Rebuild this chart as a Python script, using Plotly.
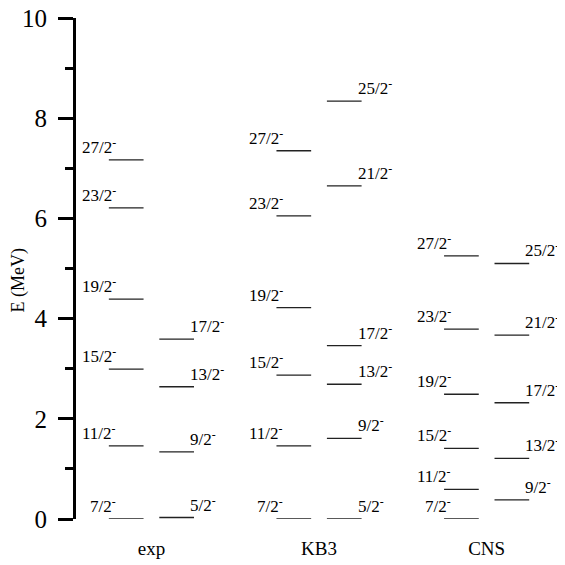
import plotly.graph_objects as go

# ---------------- data ----------------
groups = ["exp", "KB3", "CNS"]
group_pos = [1, 2, 3]

exp_left_labels = ["7/2", "11/2", "15/2", "19/2", "23/2", "27/2"]
exp_left_E = [0.0, 1.46, 2.99, 4.39, 6.21, 7.17]
exp_right_labels = ["5/2", "9/2", "13/2", "17/2"]
exp_right_E = [0.03, 1.34, 2.64, 3.59]

kb3_left_labels = ["7/2", "11/2", "15/2", "19/2", "23/2", "27/2"]
kb3_left_E = [0.0, 1.46, 2.87, 4.22, 6.05, 7.35]
kb3_right_labels = ["5/2", "9/2", "13/2", "17/2", "21/2", "25/2"]
kb3_right_E = [0.0, 1.61, 2.69, 3.46, 6.65, 8.34]

cns_left_labels = ["7/2", "11/2", "15/2", "19/2", "23/2", "27/2"]
cns_left_E = [0.0, 0.59, 1.41, 2.49, 3.79, 5.25]
cns_right_labels = ["9/2", "13/2", "17/2", "21/2", "25/2"]
cns_right_E = [0.38, 1.21, 2.32, 3.67, 5.10]

y_ticks = [0, 2, 4, 6, 8, 10]

# ---------------- layout constants ----------------
FONT = "Liberation Serif, Times New Roman, serif"
OUTER = 0.254
INNER = 0.047

columns = [
    (group_pos[0], "left", exp_left_labels, exp_left_E),
    (group_pos[0], "right", exp_right_labels, exp_right_E),
    (group_pos[1], "left", kb3_left_labels, kb3_left_E),
    (group_pos[1], "right", kb3_right_labels, kb3_right_E),
    (group_pos[2], "left", cns_left_labels, cns_left_E),
    (group_pos[2], "right", cns_right_labels, cns_right_E),
]

fig = go.Figure()
annotations = []
for g, side, labels, energies in columns:
    if side == "left":
        x0, x1 = g - OUTER, g - INNER
    else:
        x0, x1 = g + INNER, g + OUTER
    xs, ys = [], []
    for lab, e in zip(labels, energies):
        xs += [x0, x1, None]
        ys += [e, e, None]
        if side == "left":
            annotations.append(dict(
                x=x0, y=e, xref="x", yref="y", text=lab + "<sup>-</sup>",
                showarrow=False, xanchor="right", yanchor="bottom",
                xshift=9, yshift=1, font=dict(family=FONT, size=17, color="black")))
        else:
            annotations.append(dict(
                x=x1, y=e, xref="x", yref="y", text=lab + "<sup>-</sup>",
                showarrow=False, xanchor="left", yanchor="bottom",
                xshift=-6, yshift=1, font=dict(family=FONT, size=17, color="black")))
    fig.add_trace(go.Scatter(x=xs, y=ys, mode="lines",
                             line=dict(color="#222222", width=1.3),
                             hoverinfo="skip", showlegend=False))

annotations.append(dict(
    x=-0.121, y=0.477, xref="paper", yref="paper", text="E (MeV)",
    textangle=-90, showarrow=False, xanchor="center", yanchor="middle",
    font=dict(family=FONT, size=18, color="black")))

fig.update_layout(
    width=557, height=557,
    margin=dict(l=68, r=13, t=10, b=46),
    paper_bgcolor="white", plot_bgcolor="white",
    font=dict(family=FONT, color="black"),
    showlegend=False,
    annotations=annotations,
    xaxis=dict(
        range=[0.550, 3.390],
        automargin=False,
        tickvals=group_pos, ticktext=groups,
        showgrid=False, zeroline=False, showline=False, ticks="",
        tickfont=dict(family=FONT, size=19, color="black"),
        ticklabelstandoff=16,
        ticklabeloverflow="allow",
    ),
    yaxis=dict(
        range=[0, 10],
        automargin=False,
        tickvals=y_ticks,
        showgrid=False, zeroline=False,
        showline=True, linewidth=3, linecolor="black",
        ticks="outside", ticklen=15, tickwidth=2.5, tickcolor="black",
        minor=dict(dtick=1, ticks="outside", ticklen=8, tickwidth=2.5, tickcolor="black", showgrid=False),
        tickfont=dict(family=FONT, size=25, color="black"),
        ticklabelstandoff=6,
        ticklabeloverflow="allow",
    ),
)

fig.write_html("out.html")
